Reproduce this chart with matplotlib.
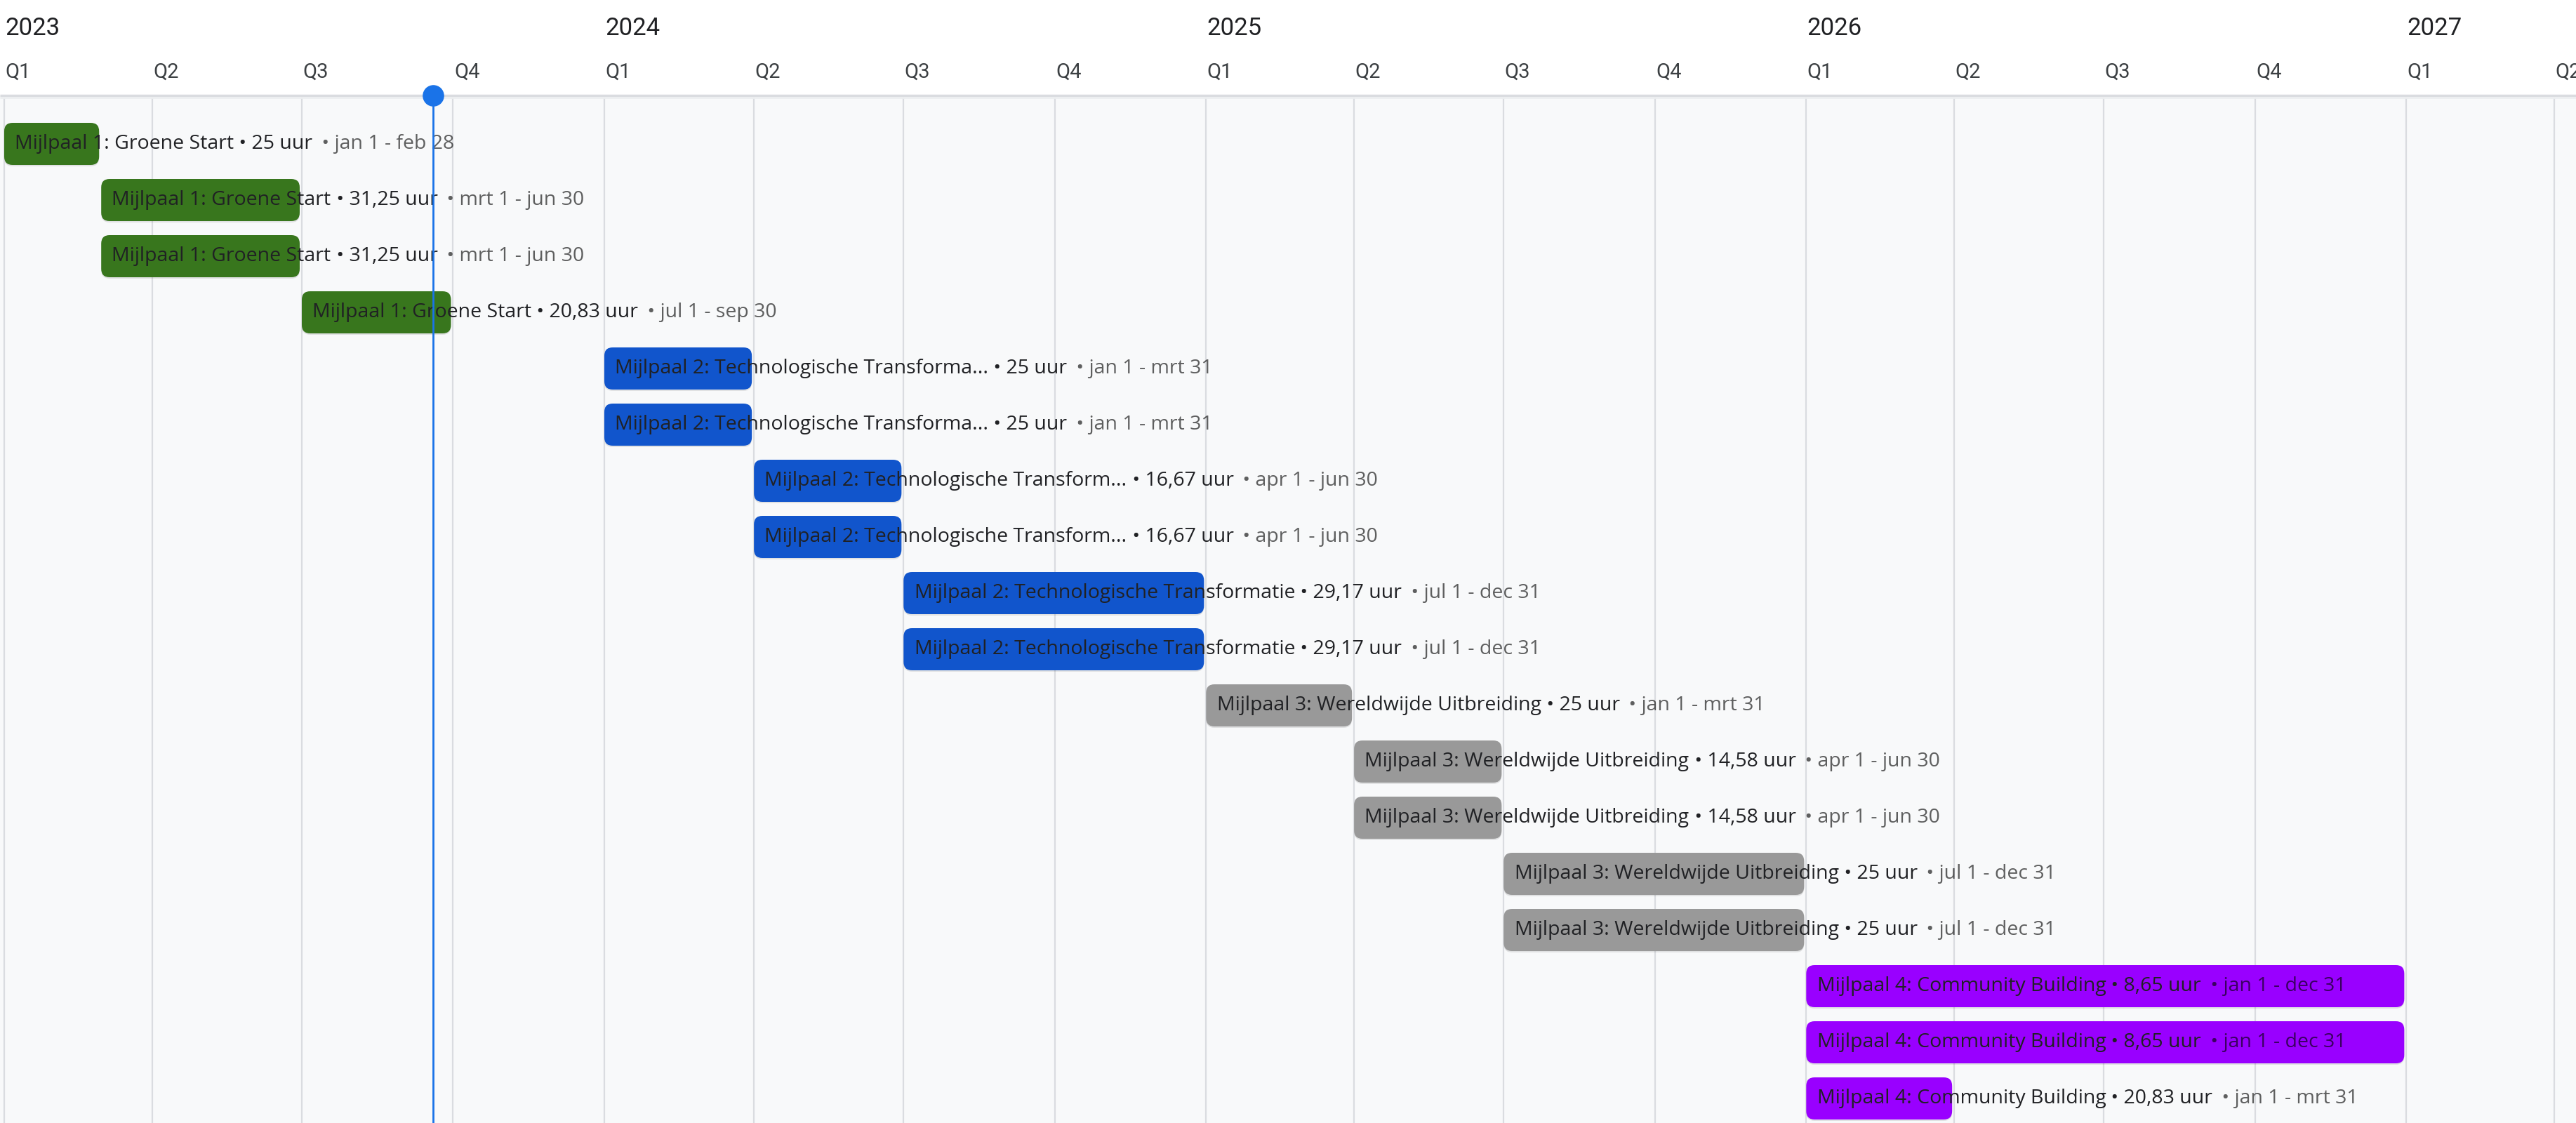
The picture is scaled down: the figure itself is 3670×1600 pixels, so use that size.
import datetime as dt
import matplotlib
matplotlib.use('Agg')
import matplotlib.pyplot as plt
import matplotlib.dates as mdates
from matplotlib.patches import FancyBboxPatch, Rectangle

plt.rcParams['font.family'] = ['Roboto', 'DejaVu Sans']

# Timeline data (one row per task)
titles = [
    'Mijlpaal 1: Groene Start',
    'Mijlpaal 1: Groene Start',
    'Mijlpaal 1: Groene Start',
    'Mijlpaal 1: Groene Start',
    'Mijlpaal 2: Technologische Transforma...',
    'Mijlpaal 2: Technologische Transforma...',
    'Mijlpaal 2: Technologische Transform...',
    'Mijlpaal 2: Technologische Transform...',
    'Mijlpaal 2: Technologische Transformatie',
    'Mijlpaal 2: Technologische Transformatie',
    'Mijlpaal 3: Wereldwijde Uitbreiding',
    'Mijlpaal 3: Wereldwijde Uitbreiding',
    'Mijlpaal 3: Wereldwijde Uitbreiding',
    'Mijlpaal 3: Wereldwijde Uitbreiding',
    'Mijlpaal 3: Wereldwijde Uitbreiding',
    'Mijlpaal 4: Community Building',
    'Mijlpaal 4: Community Building',
    'Mijlpaal 4: Community Building',
]
hours = ['25', '31,25', '31,25', '20,83', '25', '25', '16,67', '16,67', '29,17',
         '29,17', '25', '14,58', '14,58', '25', '25', '8,65', '8,65', '20,83']
starts = ['2023-01-01', '2023-03-01', '2023-03-01', '2023-07-01',
          '2024-01-01', '2024-01-01', '2024-04-01', '2024-04-01',
          '2024-07-01', '2024-07-01', '2025-01-01', '2025-04-01',
          '2025-04-01', '2025-07-01', '2025-07-01', '2026-01-01',
          '2026-01-01', '2026-01-01']
ends = ['2023-02-28', '2023-06-30', '2023-06-30', '2023-09-30',
        '2024-03-31', '2024-03-31', '2024-06-30', '2024-06-30',
        '2024-12-31', '2024-12-31', '2025-03-31', '2025-06-30',
        '2025-06-30', '2025-12-31', '2025-12-31', '2026-12-31',
        '2026-12-31', '2026-03-31']
milestone = [1, 1, 1, 1, 2, 2, 2, 2, 2, 2, 3, 3, 3, 3, 3, 4, 4, 4]
milestone_colors = {1: '#38761d', 2: '#1155cc', 3: '#999999', 4: '#9900ff'}
today = '2023-09-19'
months_nl = ['jan', 'feb', 'mrt', 'apr', 'mei', 'jun',
             'jul', 'aug', 'sep', 'okt', 'nov', 'dec']

W, H = 3670, 1600
px_per_day = 855 / 365
row_px = 80
header_px = 136
label_font = ['Open Sans', 'DejaVu Sans']
label_size = 20.5


def d(s):
    return dt.date.fromisoformat(s)


def nl_label(s):
    x = d(s)
    return f'{months_nl[x.month - 1]} {x.day}'


fig = plt.figure(figsize=(W / 100, H / 100), dpi=100)
ax = fig.add_axes([0, 0, 1, 1])
ax.set_facecolor('#f8f9fa')
for sp in ax.spines.values():
    sp.set_visible(False)
ax.set_xticks([])
ax.set_yticks([])

x0 = mdates.date2num(dt.date(2023, 1, 1)) - 6 / px_per_day
x1 = x0 + W / px_per_day
y_top = -205 / row_px
y_bot = y_top + H / row_px
ax.set_xlim(x0, x1)
ax.set_ylim(y_bot, y_top)
head_bot = y_top + header_px / row_px

# header
ax.add_patch(Rectangle((x0, y_top), x1 - x0, header_px / row_px,
                       facecolor='white', edgecolor='none', zorder=3))
ax.hlines(head_bot, x0, x1, color='#dadce0', lw=2.5, zorder=4)
ax.hlines(head_bot + 3 / row_px, x0, x1, color='#eceef0', lw=2, zorder=4)

# quarter grid + labels
quarters = []
for y in range(2023, 2028):
    for q in range(4):
        qd = dt.date(y, 1 + 3 * q, 1)
        if mdates.date2num(qd) < x1:
            quarters.append((y, q, qd))
for y, q, qd in quarters:
    xn = mdates.date2num(qd)
    ax.vlines(xn, head_bot, y_bot, color='#dadce0', lw=1.6, zorder=1)
    ax.annotate(f'Q{q + 1}', xy=(xn, y_top + 103 / row_px), xytext=(1, 0),
                textcoords='offset points', ha='left', va='center',
                fontsize=21, color='#3c4043', zorder=5)
    if q == 0:
        ax.annotate(str(y), xy=(xn, y_top + 40 / row_px), xytext=(1, 0),
                    textcoords='offset points', ha='left', va='center',
                    fontsize=25, color='#202124', zorder=5)

# bars
r_days = 12 / px_per_day
aspect = px_per_day / row_px
bar_h = 60 / row_px
for i in range(len(titles)):
    s = mdates.date2num(d(starts[i]))
    e = mdates.date2num(d(ends[i]) + dt.timedelta(days=1)) - 3 / px_per_day
    col = milestone_colors[milestone[i]]
    ax.add_patch(FancyBboxPatch((s, i - bar_h / 2 + 2 / row_px), e - s, bar_h,
                                boxstyle=f'round,pad=0,rounding_size={r_days}',
                                mutation_aspect=aspect, facecolor='#00000018',
                                edgecolor='none', zorder=1.5))
    ax.add_patch(FancyBboxPatch((s, i - bar_h / 2), e - s, bar_h,
                                boxstyle=f'round,pad=0,rounding_size={r_days}',
                                mutation_aspect=aspect, facecolor=col,
                                edgecolor='none', zorder=2))
    t1 = ax.annotate(titles[i], xy=(s, i), xytext=(11, 0),
                     textcoords='offset points', ha='left', va='center',
                     fontsize=label_size, family=label_font, color='#202124',
                     zorder=5)
    t2 = ax.annotate(f' \u2022 {hours[i]} uur', xy=(1, 0), xycoords=t1,
                     ha='left', va='bottom', fontsize=label_size,
                     family=label_font, color='#202124', zorder=5)
    ax.annotate(f' \u2022 {nl_label(starts[i])} - {nl_label(ends[i])}',
                xy=(1, 0), xycoords=t2, xytext=(4, 0),
                textcoords='offset points', ha='left', va='bottom',
                fontsize=label_size, family=label_font, color='black',
                alpha=0.62, zorder=5)

# today marker
tn = mdates.date2num(d(today))
ax.vlines(tn, head_bot, y_bot, color='#1a73e8', lw=2, zorder=6)
ax.plot(tn, head_bot, 'o', ms=21, color='#1a73e8', zorder=7, clip_on=False)

fig.savefig('out.png', dpi=100)
